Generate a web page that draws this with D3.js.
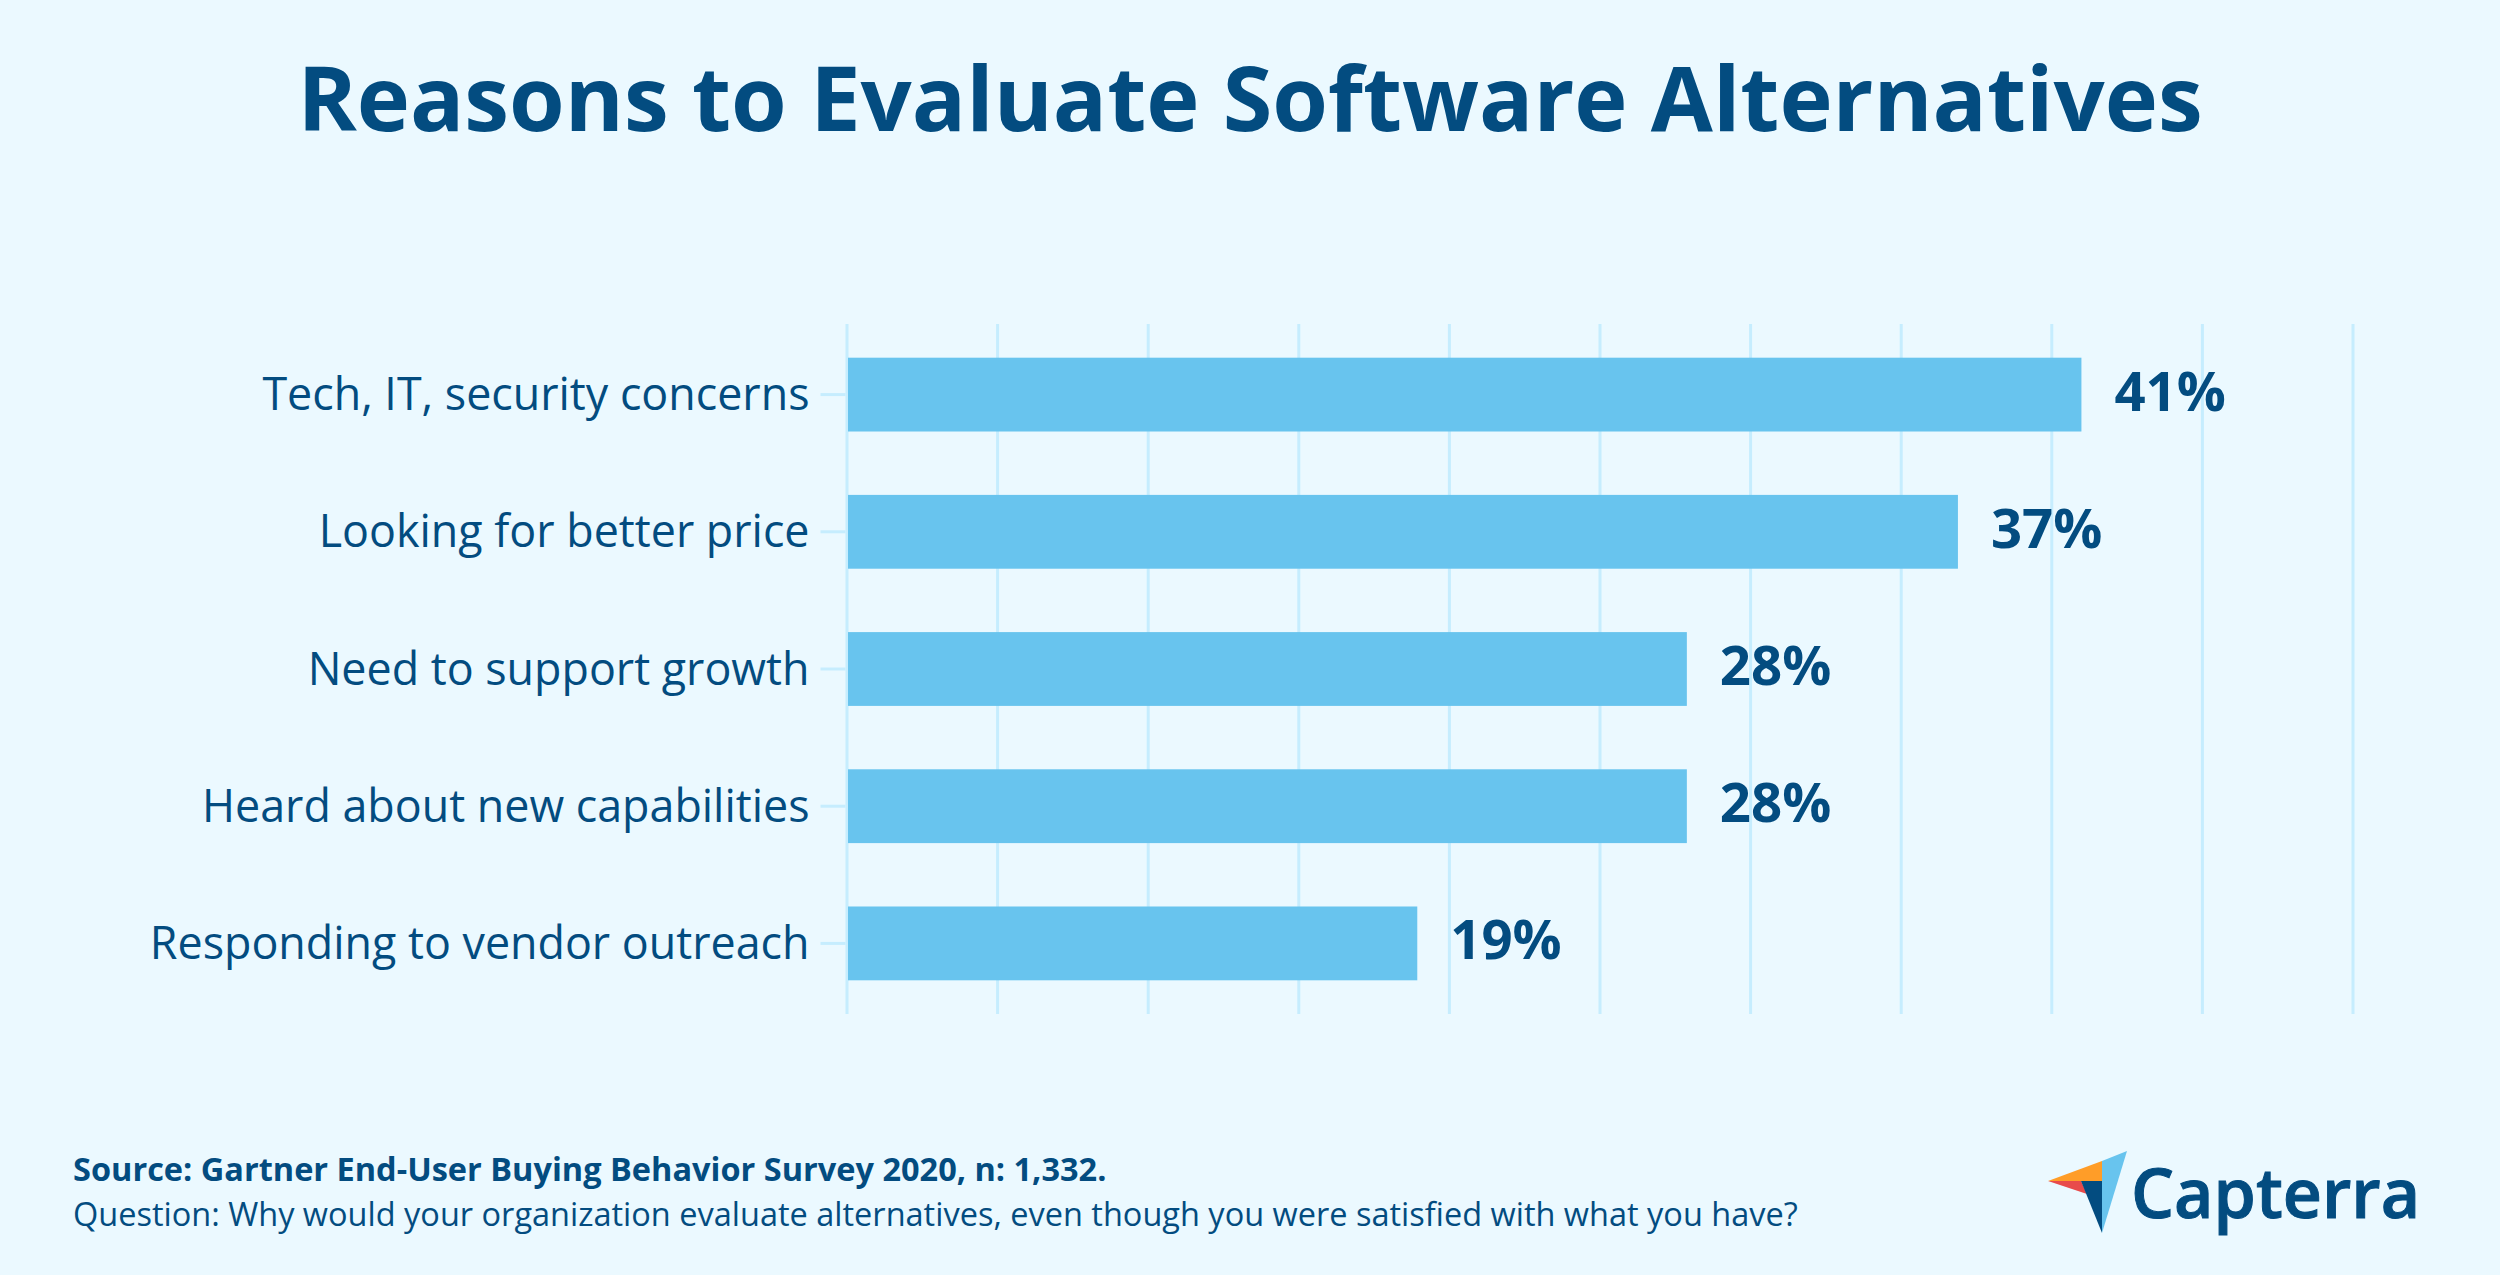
<!DOCTYPE html>
<html>
<head>
<meta charset="utf-8">
<script src="https://cdn.jsdelivr.net/npm/d3@7"></script>
<style>
  html, body { margin: 0; padding: 0; background: #ebf9ff; }
  svg { display: block; font-family: "Open Sans", sans-serif; }
</style>
</head>
<body>
<div id="chartContainer"></div>
<script>
// Chart data
const categories = [
    "Tech, IT, security concerns",
    "Looking for better price",
    "Need to support growth",
    "Heard about new capabilities",
    "Responding to vendor outreach"
];
// Bar lengths, the labels show them rounded
const values = [41, 36.9, 27.9, 27.9, 18.95];
const gridTicks = [0, 5, 10, 15, 20, 25, 30, 35, 40, 45, 50];

const titleText = "Reasons to Evaluate Software Alternatives";
const sourceText = "Source: Gartner End-User Buying Behavior Survey 2020, n: 1,332.";
const questionText = "Question: Why would your organization evaluate alternatives, even though you were satisfied with what you have?";

const navy = "#034c80";
const barColor = "#68c4ee";
const gridColor = "#c6edfe";

const width = 2500;
const height = 1275;
const plot = {left: 846.5, right: 2352.5, top: 324, bottom: 1014};

const svg = d3.select("#chartContainer")
    .append("svg")
    .attr("width", width)
    .attr("height", height)
    .style("background", "#ebf9ff");

// Scales
const xScale = d3.scaleLinear()
    .domain([0, 50])
    .range([plot.left, plot.right]);

const yScale = d3.scaleBand()
    .domain(categories)
    .range([plot.top + 2, plot.bottom - 2])
    .paddingInner(0.462)
    .paddingOuter(0.231);

const percentFormat = d => d3.format(".0f")(d) + "%";

// Title
svg.append("text")
    .attr("x", 1250)
    .attr("y", 131)
    .attr("text-anchor", "middle")
    .attr("font-size", 90)
    .attr("font-weight", 700)
    .attr("fill", navy)
    .text(titleText);

// Gridlines drawn from the x axis
const xAxis = d3.axisBottom(xScale)
    .tickValues(gridTicks)
    .tickSize(plot.bottom - plot.top)
    .tickFormat("");

const xAxisG = svg.append("g")
    .attr("transform", `translate(0,${plot.top})`)
    .call(xAxis);
xAxisG.select(".domain").remove();
xAxisG.selectAll(".tick line")
    .attr("stroke", gridColor)
    .attr("stroke-width", 3);

// Category axis
const yAxis = d3.axisLeft(yScale)
    .tickSize(25)
    .tickPadding(11);

const yAxisG = svg.append("g")
    .attr("transform", `translate(${plot.left - 1},0)`)
    .call(yAxis);
yAxisG.select(".domain").remove();
yAxisG.selectAll(".tick line")
    .attr("stroke", gridColor)
    .attr("stroke-width", 3);
yAxisG.selectAll(".tick text")
    .attr("font-family", '"Open Sans", sans-serif')
    .attr("font-size", 44.8)
    .attr("dy", "0.35em")
    .attr("fill", navy);

// Bars
svg.selectAll(".bar")
    .data(values)
    .join("rect")
    .attr("class", "bar")
    .attr("x", xScale(0) + 1.5)
    .attr("y", (d, i) => yScale(categories[i]))
    .attr("width", d => xScale(d) - xScale(0) - 1.5)
    .attr("height", yScale.bandwidth())
    .attr("fill", barColor);

// Value labels
svg.selectAll(".value")
    .data(values)
    .join("text")
    .attr("class", "value")
    .attr("x", d => xScale(d) + 33)
    .attr("y", (d, i) => yScale(categories[i]) + yScale.bandwidth() / 2 - 3)
    .attr("dy", "0.35em")
    .attr("font-size", 54.5)
    .attr("font-weight", 700)
    .attr("fill", navy)
    .text(percentFormat);

// Source notes
svg.append("text")
    .attr("x", 73)
    .attr("y", 1181)
    .attr("font-size", 32.5)
    .attr("font-weight", 700)
    .attr("fill", navy)
    .text(sourceText);

svg.append("text")
    .attr("x", 73)
    .attr("y", 1226)
    .attr("font-size", 32.5)
    .attr("fill", navy)
    .text(questionText);

// Capterra logo
const logo = svg.append("g");
const logoParts = [
    {fill: "#ff9d28", pts: [[2048, 1181], [2102, 1161], [2102, 1181]]},
    {fill: "#68c4ee", pts: [[2102, 1161], [2127, 1151], [2102, 1233]]},
    {fill: "#e84b4b", pts: [[2048, 1181], [2081, 1181], [2087, 1194]]},
    {fill: navy, pts: [[2081, 1181], [2102, 1181], [2102, 1233]]}
];
logo.selectAll("polygon")
    .data(logoParts)
    .join("polygon")
    .attr("points", d => d.pts.join(" "))
    .attr("fill", d => d.fill);

logo.append("text")
    .attr("x", 2131)
    .attr("y", 1218)
    .attr("font-size", 68)
    .attr("font-weight", 600)
    .attr("stroke", navy)
    .attr("stroke-width", 1)
    .attr("fill", navy)
    .text("Capterra");
</script>
</body>
</html>
